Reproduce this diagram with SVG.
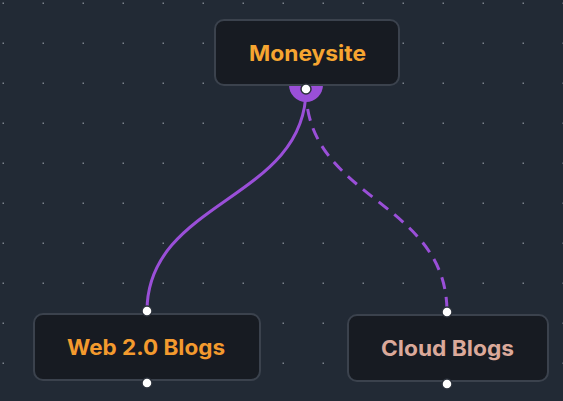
<svg xmlns="http://www.w3.org/2000/svg" width="563" height="401" viewBox="0 0 563 401">
<defs>
<pattern id="grid" x="0" y="0" width="40" height="40" patternUnits="userSpaceOnUse">
<rect x="2.5" y="2.5" width="1.5" height="1.5" fill="#7b828c"/>
</pattern>
<style>
.node{fill:#171b22;stroke:#3b424d;stroke-width:2}
.lbl{font-family:Inter,"Noto Sans",sans-serif;font-weight:700;font-size:21.5px;text-anchor:middle}
.handle{fill:#ffffff;stroke:#2b313b;stroke-width:1.5}
.edge{fill:none;stroke:#9a4fd8;stroke-width:3}
</style>
</defs>
<rect width="563" height="401" fill="#222a35"/>
<rect width="563" height="401" fill="url(#grid)"/>
<g id="connectors">
<path d="M289,85 A17,17 0 0 0 323,85 Z" fill="#9a4fd8"/>
<path class="edge" d="M306,89 C306,200 147,200 147,311"/>
<path class="edge" d="M306,89 C306,200 447,200 447,312" stroke-dasharray="12,8"/>
</g>
<g id="moneysite">
<rect class="node" x="215" y="20" width="184" height="65" rx="9"/>
<text class="lbl" x="307.5" y="60.5" fill="#f6a531" textLength="117" lengthAdjust="spacingAndGlyphs">Moneysite</text>
<circle class="handle" cx="306" cy="89" r="5"/>
</g>
<g id="web20">
<rect class="node" x="34" y="314" width="226" height="66" rx="9"/>
<text class="lbl" x="146" y="354.5" fill="#f39a2e" textLength="158" lengthAdjust="spacingAndGlyphs">Web 2.0 Blogs</text>
<circle class="handle" cx="147" cy="311" r="5"/>
<circle class="handle" cx="147" cy="383" r="5"/>
</g>
<g id="cloud">
<rect class="node" x="348" y="315" width="200" height="66" rx="9"/>
<text class="lbl" x="447.5" y="355.5" fill="#dba99a" textLength="133" lengthAdjust="spacingAndGlyphs">Cloud Blogs</text>
<circle class="handle" cx="447" cy="312" r="5"/>
<circle class="handle" cx="447" cy="384" r="5"/>
</g>
</svg>
